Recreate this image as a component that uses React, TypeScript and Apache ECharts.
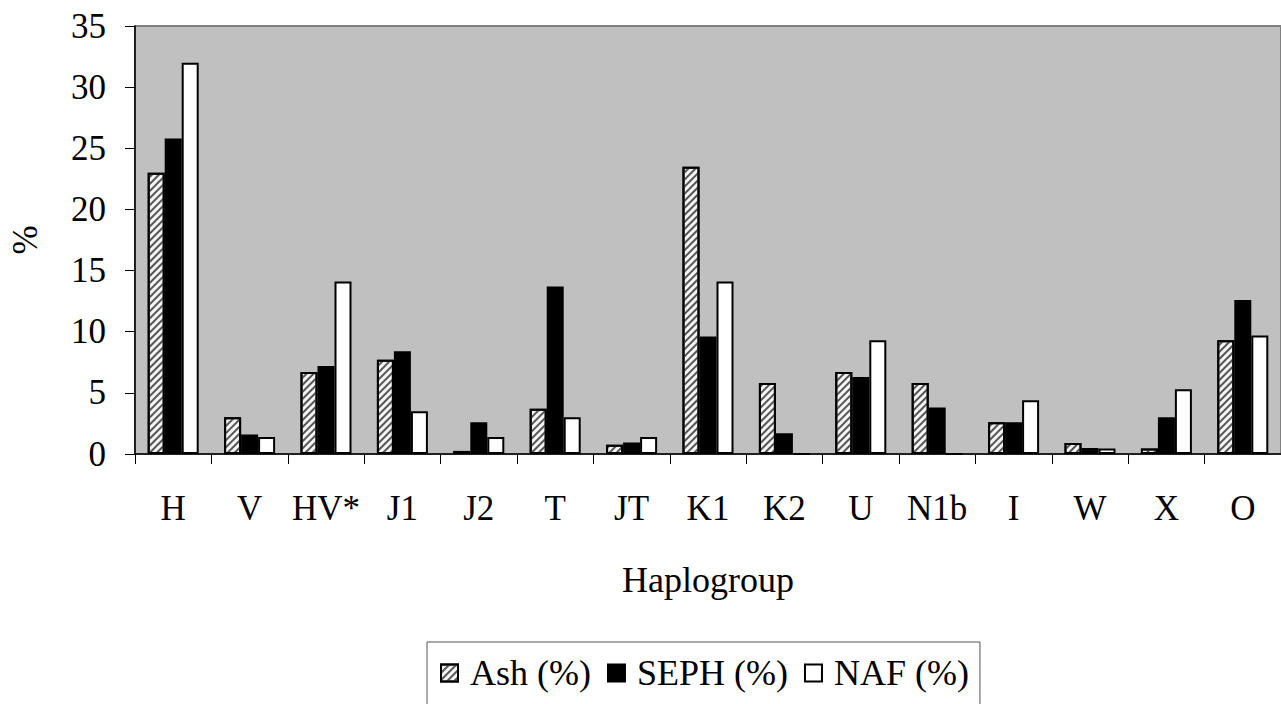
import React, { useEffect, useRef } from "react";
import * as echarts from "echarts";

const categories = ["H", "V", "HV*", "J1", "J2", "T", "JT", "K1", "K2", "U", "N1b", "I", "W", "X", "O"];
const ashValues = [23.0, 3.0, 6.7, 7.7, 0.25, 3.7, 0.75, 23.5, 5.8, 6.7, 5.8, 2.6, 0.9, 0.45, 9.3];
const sephValues = [25.8, 1.6, 7.2, 8.4, 2.6, 13.7, 0.95, 9.6, 1.7, 6.3, 3.8, 2.6, 0.5, 3.0, 12.6];
const nafValues = [32.0, 1.4, 14.1, 3.5, 1.4, 3.0, 1.4, 14.1, 0, 9.3, 0, 4.4, 0.45, 5.3, 9.7];
const seriesNames = ["Ash (%)", "SEPH (%)", "NAF (%)"];

const FONT = "'Liberation Serif', 'Times New Roman', serif";

export default function App() {
  const ref = useRef<HTMLDivElement>(null);
  useEffect(() => {
    if (!ref.current) return;
    const chart = echarts.init(ref.current, undefined, { renderer: "svg" });
    const barCommon = {
      type: "bar" as const,
      barWidth: 17,
      barGap: "0%",
    };
    chart.setOption({
      animation: false,
      backgroundColor: "#ffffff",
      textStyle: { fontFamily: FONT, color: "#000" },
      grid: {
        left: 129,
        top: 26,
        width: 1154,
        height: 428,
        show: true,
        backgroundColor: "#c0c0c0",
        borderColor: "#808080",
        borderWidth: 2,
      },
      legend: {
        left: 427,
        top: 642,
        orient: "horizontal",
        icon: "rect",
        itemWidth: 17,
        itemHeight: 17,
        itemGap: 16,
        padding: [13, 11, 16, 13],
        borderColor: "#555",
        borderWidth: 1,
        backgroundColor: "#ffffff",
        textStyle: { fontFamily: FONT, fontSize: 36, color: "#000", padding: [0, 0, 0, 7] },
        data: seriesNames,
      },
      xAxis: {
        type: "category",
        data: categories,
        name: "Haplogroup",
        nameLocation: "middle",
        nameGap: 108,
        nameTextStyle: { fontFamily: FONT, fontSize: 36, color: "#000" },
        axisLine: { show: true, lineStyle: { color: "#000", width: 1.5 } },
        axisTick: { show: true, length: 10, lineStyle: { color: "#000" }, alignWithLabel: false },
        axisLabel: { fontFamily: FONT, fontSize: 35, color: "#000", margin: 37, interval: 0 },
        splitLine: { show: false },
      },
      yAxis: {
        type: "value",
        min: 0,
        max: 35,
        interval: 5,
        name: "%",
        nameLocation: "middle",
        nameGap: 92,
        nameRotate: 90,
        nameTextStyle: { fontFamily: FONT, fontSize: 35, color: "#000" },
        axisLine: { show: true, lineStyle: { color: "#000", width: 1.5 } },
        axisTick: { show: true, length: 10, lineStyle: { color: "#000" } },
        axisLabel: { fontFamily: FONT, fontSize: 35, color: "#000", margin: 29 },
        splitLine: { show: false },
      },
      series: [
        {
          ...barCommon,
          name: seriesNames[0],
          data: ashValues,
          itemStyle: {
            color: "#f4f4f4",
            borderColor: "#000",
            borderWidth: 2,
            decal: {
              symbol: "rect",
              symbolSize: 1,
              color: "#555555",
              dashArrayX: [1, 0],
              dashArrayY: [2, 3],
              rotation: -Math.PI / 4,
            },
          },
        },
        {
          ...barCommon,
          name: seriesNames[1],
          data: sephValues,
          itemStyle: { color: "#000000", borderColor: "#000", borderWidth: 2 },
        },
        {
          ...barCommon,
          name: seriesNames[2],
          data: nafValues,
          itemStyle: { color: "#ffffff", borderColor: "#000", borderWidth: 2 },
        },
      ],
    });
    return () => chart.dispose();
  }, []);
  return (
    <div
      ref={ref}
      style={{ position: "fixed", left: 0, top: 0, width: 1281, height: 704 }}
    />
  );
}
